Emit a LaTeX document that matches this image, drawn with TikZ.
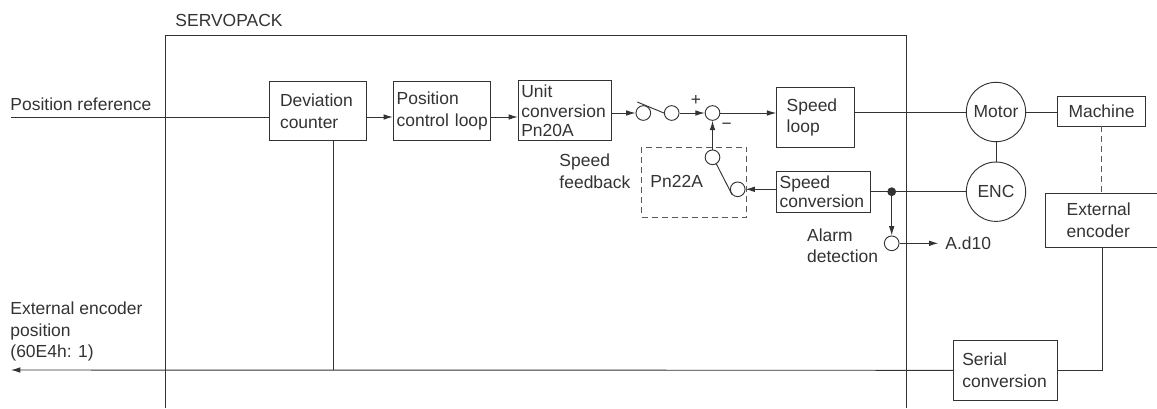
\documentclass[tikz,border=0pt]{standalone}
\usepackage{fontspec}
\setmainfont{Liberation Sans}
\usetikzlibrary{arrows.meta, calc}

\begin{document}
\begin{tikzpicture}[x=0.75pt, y=-0.75pt, line width=0.7pt, color=black!80,
  font=\fontsize{13.1}{16.3}\selectfont,
  >={Latex[length=7pt,width=4.2pt]},
  blk/.style={draw, align=left, inner ysep=1pt},
  tight/.style={font=\fontsize{13.1}{14.4}\selectfont},
  sw/.style={draw, circle, minimum size=11pt, inner sep=0pt},
  big/.style={draw, circle, minimum size=44.5pt, inner sep=0pt},
  lbl/.style={inner sep=0pt, align=left},
  dsh/.style={black!65, dash pattern=on 4.5pt off 3pt}]
\useasboundingbox (0,0) rectangle (1157,408);

% SERVOPACK frame
\node[lbl, anchor=west] (spk) at (175,20.7) {SERVOPACK};
\draw (165.7,408) -- (165.7,35.5) -- (906.7,35.5) -- (906.7,408);

% position loop
\node[blk, minimum width=72.5pt, minimum height=44.25pt, inner xsep=8pt, text width=56.5pt] (dev) at (317.7,111.2) {Deviation\\counter};
\node[blk, minimum width=73pt, minimum height=44.25pt, inner xsep=2.5pt, text width=68pt] (pcl) at (442,111.2) {Position\\control~loop};
\node[blk, tight, minimum height=45.2pt, inner xsep=2.25pt, text width=65.5pt] (uc) at (565,110.8) {Unit\\conversion\\Pn20A};

% switch and sum
\node[sw] (c1) at (643.3,113) {};
\node[sw] (c2) at (671.7,113) {};
\node[sw] (sum) at (712.5,113) {};
\node[lbl, font=\fontsize{13}{15}\selectfont] (plus) at (696,100.7) {+};
\node[lbl, font=\fontsize{13}{15}\selectfont] (minus) at (726.7,126) {−};

% speed loop and motor
\node[blk, minimum height=44.7pt, inner xsep=7.5pt, text width=43.2pt] (sl) at (815.5,117.5) {Speed\\loop};
\node[big] (mot) at (996,112) {Motor};
\node[big] (enc) at (996,191.7) {ENC};
\node[draw, minimum width=66.3pt, minimum height=22pt, inner sep=0pt] (mach) at (1101.5,111.3) {Machine};
\node[blk, tight, minimum height=31pt, inner xsep=2.25pt, text width=66.2pt] (sc) at (823.8,191.7) {Speed\\conversion};
\coordinate (jn) at (891.7,191.7);

% speed feedback selector
\node[draw, dsh, minimum width=78.75pt, minimum height=52.5pt, inner sep=0pt] (pnbox) at (694.2,182.3) {};
\node[lbl, anchor=west] (pn) at (650,181.7) {Pn22A};
\node[sw] (s1) at (712.5,157.3) {};
\node[sw] (s2) at (737.7,189.3) {};
\node[lbl, anchor=west] (fb) at (559,171) {Speed\\feedback};

% alarm
\node[sw] (alm) at (891.7,243.3) {};
\node[lbl, anchor=west] (ad) at (945,243.3) {A.d10};
\node[lbl, anchor=west] (almtxt) at (806.7,245.8) {Alarm\\detection};

% external encoder
\node[blk, minimum height=40.5pt, inner xsep=16.3pt, text width=52.9pt] (ext) at (1102,220) {External\\encoder};
\node[blk, minimum height=44.5pt, inner xsep=6.75pt, text width=64.5pt] (ser) at (1005.3,370.3) {Serial\\conversion};

% outside texts
\node[lbl, anchor=west] (posref) at (10,104.5) {Position reference};
\node[lbl, anchor=west] (extpos) at (10,331.7) {External encoder\\position\\(60E4h: 1)};

% connectors
\coordinate (inl) at (11,117);
\coordinate (outl) at (11,370);
\coordinate (tap) at (333,370);
\draw (inl) -- (inl -| dev.west);
\draw[->] (dev.east |- inl) -- (pcl.west |- inl);
\draw[->] (pcl.east |- inl) -- (uc.west |- inl);
\draw[->] (uc.east |- c1) -- (c1.west);
\draw ($(c1.center)+(-6,-11)$) -- (c2.west);
\draw[->] (c2.east) -- (sum.west);
\draw[->] (sum.east) -- (sum.east -| sl.west);
\draw (sl.east |- mot) -- (mot.west);
\draw (mot.east) -- (mach.west |- mot);
\draw (mot.south) -- (enc.north);
\draw (enc.west) -- (jn) -- (sc.east |- jn);
\fill (jn) circle (3.3pt);
\draw[->] (sc.west |- s2) -- (s2.east);
\draw (s1.-60) -- (s2.south west);
\draw[->] (s1.north) -- (sum.south);
\draw[->] (jn) -- (alm.north);
\draw[->, shorten >=5pt] (alm.east) -- (ad.west);
\draw[dsh] (mach.south) -- (mach.south |- ext.north);
\draw (ext.south) -- (ext.south |- ser.east) -- (ser.east);
\draw[->] (ser.west) -- (outl);
\draw (tap |- dev.south) -- (tap);
\end{tikzpicture}
\end{document}
